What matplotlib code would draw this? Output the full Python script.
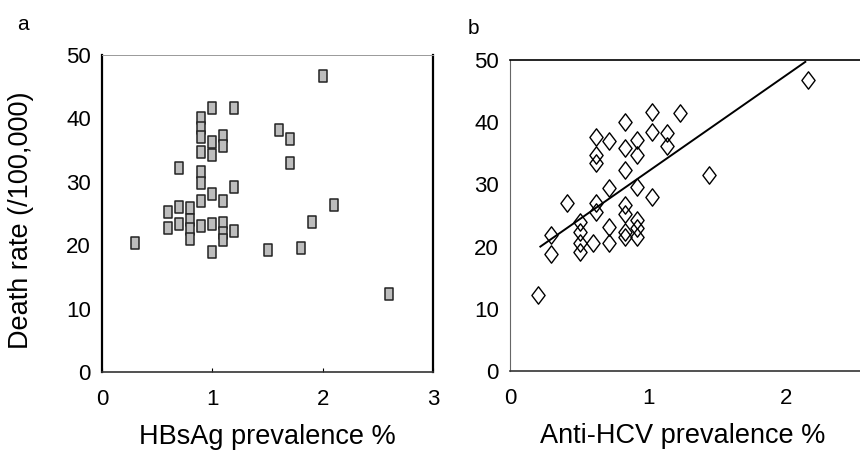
#!/usr/bin/env python3
"""Death rate vs HBsAg / anti-HCV prevalence, two scatter panels."""

import numpy as np
import matplotlib
matplotlib.use("Agg")
import matplotlib.pyplot as plt
from matplotlib.path import Path

plt.rcParams["font.family"] = ["Liberation Sans", "DejaVu Sans"]

# panel a: HBsAg prevalence (%) vs death rate (/100,000)
hbs_x = [0.3,
         0.6, 0.6,
         0.7, 0.7, 0.7,
         0.8, 0.8, 0.8, 0.8,
         0.9, 0.9, 0.9, 0.9, 0.9, 0.9, 0.9, 0.9,
         1.0, 1.0, 1.0, 1.0, 1.0, 1.0,
         1.1, 1.1, 1.1, 1.1, 1.1, 1.1,
         1.2, 1.2, 1.2,
         1.5, 1.6, 1.7, 1.7, 1.8, 1.9, 2.0, 2.1, 2.6]
hbs_y = [20.4,
         25.3, 22.7,
         32.1, 26.0, 23.3,
         25.8, 24.0, 22.6, 21.0,
         40.0, 38.5, 37.0, 34.7, 31.6, 29.8, 26.9, 23.0,
         41.6, 36.3, 34.2, 28.0, 23.3, 19.0,
         37.3, 35.6, 27.0, 23.5, 22.0, 20.8,
         41.7, 29.2, 22.3,
         19.3, 38.2, 36.7, 33.0, 19.6, 23.6, 46.7, 26.4, 12.3]

# panel b: anti-HCV prevalence (%) vs death rate (/100,000)
hcv_x = [0.20, 0.30, 0.30, 0.41,
         0.51, 0.51, 0.51, 0.51,
         0.62, 0.62, 0.62, 0.62, 0.62, 0.60,
         0.72, 0.72, 0.72, 0.72,
         0.83, 0.83, 0.83, 0.83, 0.83, 0.83, 0.83,
         0.92, 0.92, 0.92, 0.92, 0.92, 0.92,
         1.03, 1.03, 1.03,
         1.14, 1.14, 1.23, 1.44, 2.16]
hcv_y = [12.2, 21.9, 18.8, 27.0,
         24.0, 22.4, 20.5, 19.2,
         37.7, 34.7, 33.4, 27.0, 25.6, 20.5,
         36.9, 29.4, 23.2, 20.5,
         40.1, 35.8, 32.3, 26.7, 25.3, 22.4, 21.6,
         37.1, 34.7, 29.6, 24.3, 23.0, 21.6,
         41.7, 38.5, 28.0,
         38.2, 36.1, 41.4, 31.5, 46.8]

# regression line endpoints
fit_x = [0.22, 2.14]
fit_y = [20.0, 49.7]

rect = Path([(-0.35, -0.5), (0.35, -0.5), (0.35, 0.5), (-0.35, 0.5), (-0.35, -0.5)],
            closed=True)
diam = Path([(0, -0.5), (0.38, 0), (0, 0.5), (-0.38, 0), (0, -0.5)], closed=True)

W, H = 860, 453
fig = plt.figure(figsize=(8.6, 4.53), dpi=100)
axa = fig.add_axes([102 / W, 1 - 372 / H, 331 / W, 317 / H])
axb = fig.add_axes([510 / W, 1 - 371 / H, 414 / W, 311 / H])

axa.plot(hbs_x, hbs_y, ls="none", marker=rect, ms=8, mfc="#bdbdbd", mec="#222222", mew=1.1)
axa.set(xlim=(0, 3), ylim=(0, 50), xticks=[0, 1, 2, 3], yticks=range(0, 51, 10))
axa.set_xlabel("HBsAg prevalence %", fontsize=19.5)
axa.xaxis.set_label_coords(0.5, -(424 - 372) / 317)
axa.set_ylabel("Death rate (/100,000)", fontsize=19.5)
axa.yaxis.set_label_coords((34 - 102) / 331, 0.48)
axa.tick_params(axis="x", direction="in", length=3, width=0.8, labelsize=16, pad=12)
axa.tick_params(axis="y", length=0, labelsize=16, pad=8)
for s, lw, c in [("left", 1.6, "black"), ("right", 1.6, "black"),
                 ("bottom", 1.2, "#333333"), ("top", 0.7, "#999999")]:
    axa.spines[s].set_linewidth(lw)
    axa.spines[s].set_color(c)

axb.plot(hcv_x, hcv_y, ls="none", marker=diam, ms=12.5, mfc="none", mec="black", mew=1.0)
axb.plot(fit_x, fit_y, color="black", lw=1.4)
axb.set(xlim=(0, 3), ylim=(0, 50), xticks=[0, 1, 2], yticks=range(0, 51, 10))
axb.set_xlabel("Anti-HCV prevalence %", fontsize=19.5)
axb.xaxis.set_label_coords((683 - 510) / 414, -(423 - 371) / 311)
axb.tick_params(axis="both", length=0, labelsize=16)
axb.tick_params(axis="x", pad=12)
axb.tick_params(axis="y", pad=8)
for s, lw, c in [("left", 0.8, "#666666"), ("top", 1.2, "black"),
                 ("bottom", 1.2, "#333333"), ("right", 1.2, "black")]:
    axb.spines[s].set_linewidth(lw)
    axb.spines[s].set_color(c)

fig.text(17 / W, 1 - 24 / H, "a", fontsize=15, va="center", ha="left")
fig.text(468 / W, 1 - 28 / H, "b", fontsize=15, va="center", ha="left")

fig.savefig("out.png", dpi=100)
